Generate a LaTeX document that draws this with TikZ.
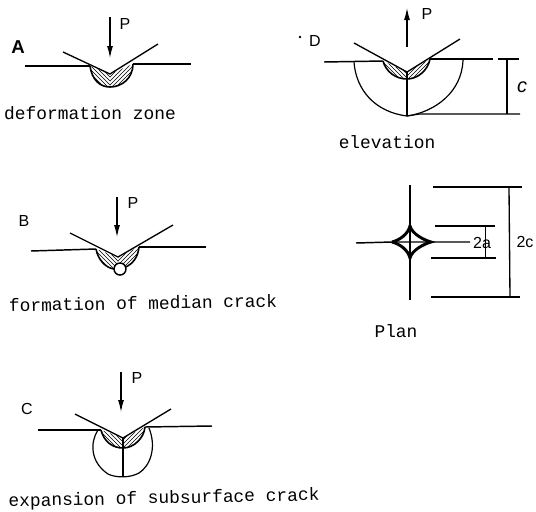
\documentclass[tikz,border=0pt]{standalone}
\usepackage{fontspec}
\setmainfont{Liberation Sans}
\newfontfamily\capfont{Liberation Mono}
\usetikzlibrary{arrows.meta, patterns, positioning}

\begin{document}
\begin{tikzpicture}[
    x=0.75pt, y=-0.75pt,
    surface/.style={line width=1.1pt},
    indenter/.style={line width=1pt},
    zone/.style={line width=1.2pt},
    crack/.style={line width=0.9pt},
    dimline/.style={line width=0.8pt},
    load/.style={line width=0.8pt, -{Latex[length=9pt, width=4.5pt]}},
    letter/.style={inner sep=0pt, font=\fontsize{12}{14}\selectfont},
    caption/.style={inner sep=0pt, font=\capfont\fontsize{13.4}{15}\selectfont},
    hatchl/.style={pattern=north west lines},
    hatchr/.style={pattern=north east lines}
]
\useasboundingbox (0,0) rectangle (536,511);

% A
\node[letter, font=\bfseries\fontsize{14}{16}\selectfont] (la) at (18,47) {A};
\node[letter] (pa) at (125,24) {P};
\node[caption] (capa) at (90,113) {deformation zone};
\coordinate (a1) at (110,17);
\coordinate (a2) at (110,58);
\coordinate (atip) at (110,74);
\coordinate (al) at (90,66);
\coordinate (ar) at (133,64);
\draw[load] (a1) -- (a2);
\fill[hatchl] (al) .. controls (92,80) and (100,87) .. (110,87) -- (atip) -- cycle;
\fill[hatchr] (ar) .. controls (133,78) and (122,87) .. (110,87) -- (atip) -- cycle;
\draw[surface] (25,66) -- (al);
\draw[surface] (ar) -- (191,64);
\draw[indenter] (63,52) -- (atip) -- (158,44);
\draw[zone] (al) .. controls (92,80) and (100,87) .. (110,87) .. controls (122,87) and (133,78) .. (ar);

% B
\node[letter] (lb) at (24,221) {B};
\node[letter] (pb) at (133,203) {P};
\node[caption, rotate=1] (capb) at (143,303) {formation of median crack};
\coordinate (b1) at (117,197);
\coordinate (b2) at (117,237);
\coordinate (btip) at (118,257);
\coordinate (bl) at (96,249);
\coordinate (br) at (139,247);
\draw[load] (b1) -- (b2);
\fill[hatchl] (bl) .. controls (98,260) and (106,268) .. (118,269) -- (btip) -- cycle;
\fill[hatchr] (br) .. controls (138,258) and (130,266) .. (118,269) -- (btip) -- cycle;
\draw[surface] (31,251) -- (bl);
\draw[surface] (br) -- (206,247);
\draw[indenter] (70,233) -- (btip) -- (173,225);
\draw[zone] (bl) .. controls (98,260) and (106,268) .. (114,269);
\draw[zone] (br) .. controls (138,258) and (132,264) .. (126,267);
\node[circle, draw, line width=1.1pt, fill=white, inner sep=0pt, minimum size=9pt] (hole) at (120,269) {};

% C
\node[letter] (lc) at (27,409) {C};
\node[letter] (pc) at (137,378) {P};
\node[caption, rotate=1.2] (capc) at (164,499) {expansion of subsurface crack};
\coordinate (c1) at (121,372);
\coordinate (c2) at (121,412);
\coordinate (ctip) at (123,438);
\coordinate (cl) at (101,430);
\coordinate (cr) at (145,427);
\draw[load] (c1) -- (c2);
\fill[hatchl] (cl) .. controls (104,442) and (113,448) .. (123,448) -- (ctip) -- cycle;
\fill[hatchr] (cr) .. controls (144,438) and (134,448) .. (123,448) -- (ctip) -- cycle;
\draw[surface] (38,430) -- (cl);
\draw[surface] (cr) -- (212,426);
\draw[indenter] (75,414) -- (ctip) -- (171,409);
\draw[zone] (cl) .. controls (104,442) and (113,448) .. (123,448) .. controls (134,448) and (144,438) .. (cr);
\draw[crack] (98,430) .. controls (90,442) and (90,462) .. (108,474) .. controls (116,478) and (130,478) .. (139,473) .. controls (150,466) and (157,448) .. (149,428);
\draw[crack] (ctip) -- (123,477);

% D
\fill (300,37) circle (1pt);
\node[letter] (ld) at (315,41) {D};
\node[letter] (pd) at (427,14) {P};
\node[caption] (capd) at (387,142) {elevation};
\node[letter, font=\itshape\fontsize{15}{17}\selectfont] (lcc) at (522,87) {c};
\coordinate (d1) at (407,47);
\coordinate (d2) at (407,8);
\coordinate (dtip) at (407,72);
\coordinate (dl) at (383,61);
\coordinate (dr) at (430,59);
\coordinate (dbot) at (407,116);
\draw[load] (d1) -- (d2);
\fill[hatchl] (dl) .. controls (386,72) and (396,79) .. (407,79) -- (dtip) -- cycle;
\fill[hatchr] (dr) .. controls (428,70) and (418,79) .. (407,79) -- (dtip) -- cycle;
\draw[surface] (324,62) -- (dl);
\draw[surface] (dr) -- (493,59);
\draw[indenter] (354,43) -- (dtip) -- (460,39);
\draw[zone] (dl) .. controls (386,72) and (396,79) .. (407,79) .. controls (418,79) and (428,70) .. (dr);
\draw[crack] (354,62) .. controls (356,90) and (375,112) .. (dbot) .. controls (435,112) and (462,92) .. (463,60);
\draw[crack] (dtip) -- (dbot);
\draw[dimline] (498,59) -- (519,59);
\draw[dimline] (dbot) -- (420,114) -- (520,114);
\draw[dimline] (507,59) -- (507,114);

% Plan
\node[caption] (capp) at (396,331) {Plan};
\node[letter] (l2a) at (482,243) {2a};
\node[letter] (l2c) at (525,242) {2c};
\coordinate (pw) at (392,242);
\coordinate (pe) at (431,242);
\coordinate (pn) at (410,226);
\coordinate (ps) at (410,258);
\draw[surface] (356,243) -- (pw) -- (pe) -- (470,242);
\draw[surface] (410,185) -- (pn) -- (ps) -- (410,300);
\draw[line width=2.2pt] (pw) .. controls (400,240) and (408,234) .. (pn) .. controls (412,234) and (424,240) .. (pe) .. controls (424,244) and (412,250) .. (ps) .. controls (408,250) and (400,244) .. (pw);
\draw[dimline] (433,187) -- (522,187);
\draw[dimline] (435,226) -- (495,226);
\draw[dimline] (431,258) -- (496,258);
\draw[dimline] (431,297) -- (520,297);
\draw[line width=0.5pt] (485,226) -- (485,258);
\draw[line width=1pt] (509,187) -- (510,297);
\end{tikzpicture}
\end{document}
